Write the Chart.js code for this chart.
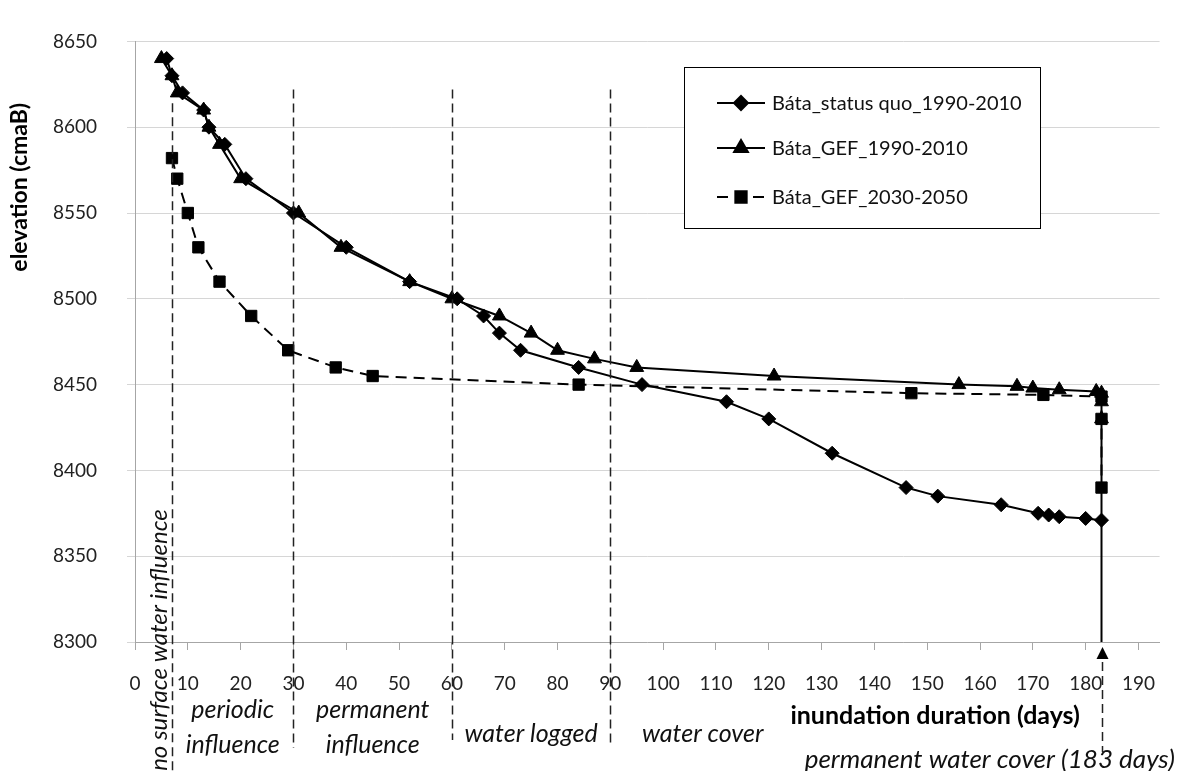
<!DOCTYPE html>
<html>
<head>
<meta charset="utf-8">
<script src="https://cdn.jsdelivr.net/npm/chart.js@4.4.0/dist/chart.umd.min.js"></script>
<style>
  html, body { margin: 0; padding: 0; background: #fff; }
  #wrap { width: 1177px; height: 771px; }
</style>
</head>
<body>
<div id="wrap"><canvas id="grafico"></canvas></div>
<script>
// dados
const seriesNames = ['Báta_status quo_1990-2010', 'Báta_GEF_1990-2010', 'Báta_GEF_2030-2050'];

const statusQuoDays = [6, 7, 9, 13, 14, 17, 21, 30, 40, 52, 61, 66, 69, 73, 84, 96, 112, 120, 132, 146, 152, 164, 171, 173, 175, 180, 183];
const statusQuoElev = [8640, 8630, 8620, 8610, 8600, 8590, 8570, 8550, 8530, 8510, 8500, 8490, 8480, 8470, 8460, 8450, 8440, 8430, 8410, 8390, 8385, 8380, 8375, 8374, 8373, 8372, 8371];

const gef1990Days = [5, 7, 8, 13, 14, 16, 20, 31, 39, 52, 60, 69, 75, 80, 87, 95, 121, 156, 167, 170, 175, 182, 183, 183, 183, 183];
const gef1990Elev = [8640, 8630, 8620, 8610, 8600, 8590, 8570, 8550, 8530, 8510, 8500, 8490, 8480, 8470, 8465, 8460, 8455, 8450, 8449, 8448, 8447, 8446, 8445, 8440, 8430, 8200];

const gef2030Days = [7, 8, 10, 12, 16, 22, 29, 38, 45, 84, 147, 172, 183, 183, 183];
const gef2030Elev = [8582, 8570, 8550, 8530, 8510, 8490, 8470, 8460, 8455, 8450, 8445, 8444, 8443, 8430, 8390];

const yTicks = [8300, 8350, 8400, 8450, 8500, 8550, 8600, 8650];
const xTicks = [0, 10, 20, 30, 40, 50, 60, 70, 80, 90, 100, 110, 120, 130, 140, 150, 160, 170, 180, 190];

// limites das zonas de inundação (dias)
const zoneBounds = [7, 30, 60, 90];
const permanentDay = 183;
const zoneTexts = [
  { from: 7, to: 30, lines: ['periodic', 'influence'] },
  { from: 30, to: 60, lines: ['permanent', 'influence'] },
  { from: 60, to: 90, lines: ['water logged'] }
];

const FONT = 'Lato, "Noto Sans", sans-serif';

function pts(xs, ys) {
  return xs.map((x, i) => ({ x: x, y: ys[i] }));
}

// desenha zonas, títulos e legenda
const extras = {
  id: 'extras',
  afterDraw(chart) {
    const ctx = chart.ctx;
    const xs = chart.scales.x, ys = chart.scales.y;
    const area = chart.chartArea;
    const b = area.bottom;
    ctx.save();

    // linhas tracejadas das zonas
    ctx.strokeStyle = '#222';
    ctx.lineWidth = 1.5;
    ctx.setLineDash([9, 5]);
    const bottoms = [771, b + 106, b + 98, b + 103];
    zoneBounds.forEach((d, i) => {
      const px = Math.round(xs.getPixelForValue(d)) + 0.5;
      const top = ys.getPixelForValue(i === 0 ? 8614 : 8622);
      ctx.beginPath();
      ctx.moveTo(px, top);
      ctx.lineTo(px, bottoms[i]);
      ctx.stroke();
    });
    // seta 183 dias
    const p183 = Math.round(xs.getPixelForValue(permanentDay)) + 0.5;
    ctx.beginPath();
    ctx.moveTo(p183, b + 20);
    ctx.lineTo(p183, b + 110);
    ctx.stroke();
    ctx.setLineDash([]);
    ctx.fillStyle = '#000';
    ctx.beginPath();
    ctx.moveTo(p183, b + 5);
    ctx.lineTo(p183 - 6, b + 17);
    ctx.lineTo(p183 + 6, b + 17);
    ctx.closePath();
    ctx.fill();

    // textos das zonas
    ctx.fillStyle = '#111';
    ctx.textAlign = 'center';
    ctx.textBaseline = 'middle';
    ctx.font = 'italic 25px ' + FONT;
    zoneTexts.forEach(z => {
      const cx = (xs.getPixelForValue(z.from) + xs.getPixelForValue(z.to)) / 2;
      if (z.lines.length === 2) {
        ctx.fillText(z.lines[0], cx, b + 68);
        ctx.fillText(z.lines[1], cx, b + 103);
      } else {
        ctx.fillText(z.lines[0], cx, b + 92);
      }
    });
    ctx.textAlign = 'left';
    ctx.fillText('water cover', xs.getPixelForValue(96), b + 92);
    ctx.textAlign = 'right';
    ctx.font = 'italic 26px ' + FONT;
    ctx.fillText('permanent water cover (183 days)', 1175, b + 118);

    // texto vertical
    ctx.save();
    ctx.font = 'italic 24px ' + FONT;
    ctx.translate(xs.getPixelForValue(4.6), 640);
    ctx.rotate(-Math.PI / 2);
    ctx.textAlign = 'center';
    ctx.fillText('no surface water influence', 0, 0);
    ctx.restore();

    // títulos dos eixos
    ctx.font = 'bold 25px ' + FONT;
    ctx.textAlign = 'center';
    ctx.fillStyle = '#000';
    ctx.fillText('inundation duration (days)', xs.getPixelForValue(151.5), b + 74);
    ctx.save();
    ctx.font = 'bold 23px ' + FONT;
    ctx.translate(20, ys.getPixelForValue(8565));
    ctx.rotate(-Math.PI / 2);
    ctx.fillText('elevation (cmaB)', 0, 0);
    ctx.restore();

    // legenda
    const box = { l: 684, t: 67, r: 1040, b: 228 };
    ctx.fillStyle = '#fff';
    ctx.fillRect(box.l, box.t, box.r - box.l, box.b - box.t);
    ctx.strokeStyle = '#000';
    ctx.lineWidth = 1;
    ctx.strokeRect(box.l + 0.5, box.t + 0.5, box.r - box.l, box.b - box.t);
    const rows = [103, 148, 197];
    chart.data.datasets.forEach((ds, i) => {
      const y = rows[i];
      ctx.strokeStyle = '#000';
      ctx.lineWidth = 2;
      ctx.setLineDash(ds.borderDash || []);
      ctx.beginPath();
      ctx.moveTo(717, y);
      ctx.lineTo(765, y);
      ctx.stroke();
      ctx.setLineDash([]);
      ctx.fillStyle = '#000';
      Chart.helpers.drawPoint(ctx, {
        pointStyle: ds.pointStyle,
        radius: ds.pointRadius,
        rotation: 0,
        borderWidth: 1
      }, 741, y);
      ctx.fillStyle = '#111';
      ctx.font = '20px ' + FONT;
      ctx.textAlign = 'left';
      ctx.fillText(ds.label, 772, y + 1);
    });
    ctx.restore();
  }
};

const ctx = document.getElementById('grafico').getContext('2d');

const myChart = new Chart(ctx, {
  type: 'line',
  data: {
    datasets: [
      {
        label: seriesNames[0],
        data: pts(statusQuoDays, statusQuoElev),
        borderColor: '#000',
        backgroundColor: '#000',
        borderWidth: 2,
        pointStyle: 'rectRot',
        pointRadius: 7,
        pointBorderWidth: 1,
        tension: 0
      },
      {
        label: seriesNames[1],
        data: pts(gef1990Days, gef1990Elev),
        borderColor: '#000',
        backgroundColor: '#000',
        borderWidth: 2,
        pointStyle: 'triangle',
        pointRadius: 8,
        pointBorderWidth: 1,
        tension: 0
      },
      {
        label: seriesNames[2],
        data: pts(gef2030Days, gef2030Elev),
        borderColor: '#000',
        backgroundColor: '#000',
        borderWidth: 2,
        borderDash: [11, 7],
        pointStyle: 'rect',
        pointRadius: 8,
        pointBorderWidth: 1,
        tension: 0
      }
    ]
  },
  options: {
    responsive: true,
    maintainAspectRatio: false,
    animation: false,
    devicePixelRatio: 1,
    layout: { autoPadding: false, padding: { left: 0, right: 0, top: 27, bottom: 0 } },
    plugins: {
      legend: { display: false },
      tooltip: { enabled: false }
    },
    scales: {
      x: {
        type: 'linear',
        min: 0,
        max: 194,
        afterBuildTicks: s => { s.ticks = xTicks.map(v => ({ value: v })); },
        afterFit: s => { s.height = 129; },
        ticks: {
          font: { family: FONT, size: 19 },
          color: '#222',
          padding: 22,
          maxRotation: 0,
          autoSkip: false,
          callback: v => String(v)
        },
        grid: { drawOnChartArea: false, tickLength: 8, color: '#a6a6a6' },
        border: { color: '#a6a6a6' }
      },
      y: {
        min: yTicks[0],
        max: yTicks[yTicks.length - 1],
        afterBuildTicks: s => { s.ticks = yTicks.map(v => ({ value: v })); },
        afterFit: s => { s.width = 135; },
        ticks: {
          font: { family: FONT, size: 19 },
          color: '#222',
          padding: 30,
          callback: v => String(v)
        },
        grid: { color: '#d6d6d6', tickLength: 8 },
        border: { color: '#a6a6a6' }
      }
    }
  },
  plugins: [extras]
});
</script>
</body>
</html>
